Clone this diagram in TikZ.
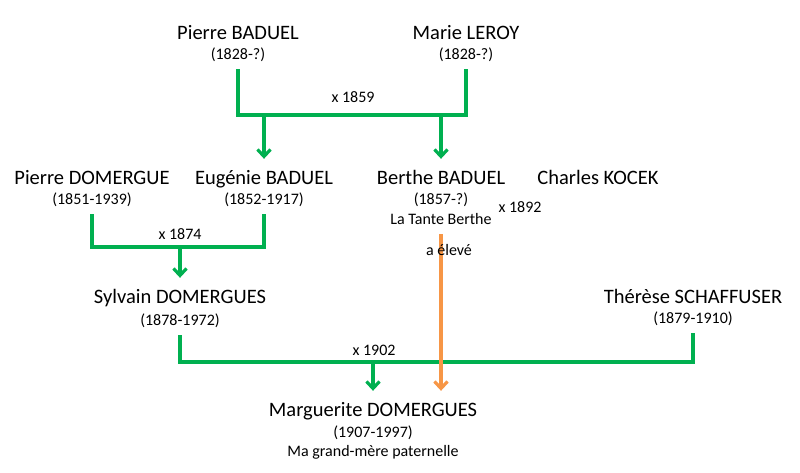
\documentclass[tikz,border=0pt]{standalone}
\usepackage{fontspec}
\setmainfont{Carlito}
\usepackage{tikz}
\usetikzlibrary{arrows.meta}
\usetikzlibrary{calc}

\definecolor{lienvert}{RGB}{0,176,80}
\definecolor{lienorange}{RGB}{247,150,70}

\begin{document}
\begin{tikzpicture}[x=1pt, y=-1pt,
  nom/.style={font=\fontsize{20.5}{24}\selectfont, text height=15pt, text depth=2pt, inner ysep=10.5pt, inner xsep=0pt},
  date/.style={font=\fontsize{16}{19}\selectfont, text height=12pt, text depth=4pt, inner ysep=6pt, inner xsep=0pt},
  mariage/.style={font=\fontsize{16}{19}\selectfont},
  lien/.style={color=lienvert, line width=3.2pt},
  eleve/.style={color=lienorange, line width=3.2pt},
  >={Straight Barb[length=7pt,width=13pt]}]
\useasboundingbox (0,0) rectangle (800,472);

% generation 1
\node[nom] (pb) at (238,33) {Pierre BADUEL};
\node[date] (pbd) at (238,55) {(1828-?)};
\node[nom] (ml) at (466,33) {Marie LEROY};
\node[date] (mld) at (466,55) {(1828-?)};

% generation 2
\node[nom] (pd) at (92,178) {Pierre DOMERGUE};
\node[date] (pdd) at (92,200) {(1851-1939)};
\node[nom] (eb) at (264,178) {Eugénie BADUEL};
\node[date] (ebd) at (264,200) {(1852-1917)};
\node[nom] (bb) at (441,178) {Berthe BADUEL};
\node[date] (bbd) at (441,200) {(1857-?)};
\node[date] (tb) at (441,220) {La Tante Berthe};
\node[nom] (ck) at (598,178) {Charles KOCEK};

% generation 3
\node[nom] (sd) at (180,297) {Sylvain DOMERGUES};
\node[date] (sdd) at (180,321) {(1878-1972)};
\node[nom] (ts) at (693,297) {Thérèse SCHAFFUSER};
\node[date] (tsd) at (693,319) {(1879-1910)};

% generation 4
\node[nom] (md) at (373,410) {Marguerite DOMERGUES};
\node[date] (mdd) at (373,433) {(1907-1997)};
\node[date] (mgm) at (373,452) {Ma grand-mère paternelle};

% mariage 1859
\coordinate (m1859) at (353,115);
\draw[lien] (pbd.south) |- (m1859) -| (mld.south);
\node[mariage] (x1859) at (353,97) {x 1859};
\draw[lien,->] (eb.north |- m1859) -- (eb.north);
\draw[lien,->] (bb.north |- m1859) -- (bb.north);

% mariage 1874
\coordinate (m1874) at (180,247);
\draw[lien] (pdd.south) |- (m1874) -| (ebd.south);
\node[mariage] (x1874) at (180,234) {x 1874};
\draw[lien,->] (m1874) -- (sd.north);

% mariage 1892
\node[mariage] (x1892) at (520,207) {x 1892};

% mariage 1902
\coordinate (m1902) at (373,362);
\draw[lien] (sdd.south) |- (m1902) -| (tsd.south);
\node[mariage] (x1902) at (374,350) {x 1902};
\draw[lien,->] (m1902) -- (md.north);

% tante Berthe
\draw[eleve,->] (tb.south) -- (md.north -| tb.south);
\node[mariage] (ae) at (449,250) {a élevé};
\end{tikzpicture}
\end{document}
